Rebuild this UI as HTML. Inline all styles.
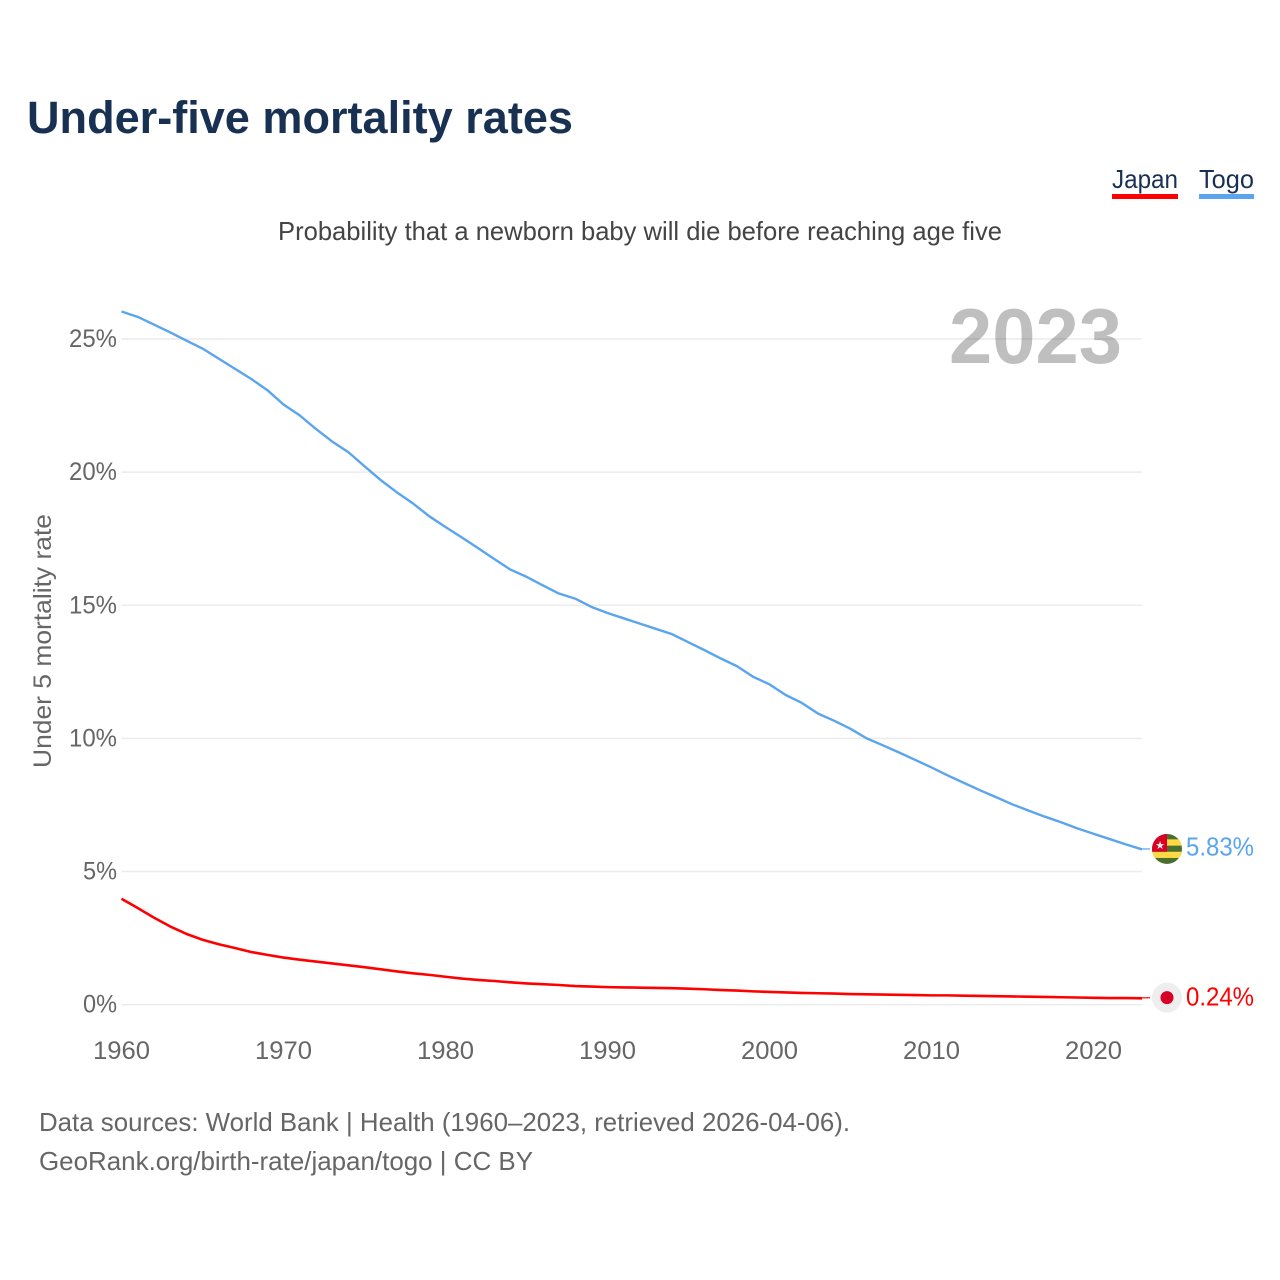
<!DOCTYPE html>
<html lang="en">
<head>
<meta charset="utf-8">
<title>Under-five mortality rates</title>
<style>
html,body{margin:0;padding:0;background:#fff;}
svg{display:block;}
text{font-family:"Liberation Sans",sans-serif;}
</style>
</head>
<body>
<svg id="chart" width="1280" height="1280" viewBox="0 0 1280 1280" xmlns="http://www.w3.org/2000/svg">
  <rect x="0" y="0" width="1280" height="1280" fill="#fff"/>
  <text x="27" y="133" font-size="45" font-weight="700" fill="#183153" textLength="546" lengthAdjust="spacingAndGlyphs">Under-five mortality rates</text>
  <g>
    <text x="1112" y="188" font-size="26" fill="#183153" textLength="66" lengthAdjust="spacingAndGlyphs">Japan</text>
    <rect x="1112" y="194" width="66" height="5" fill="#ff0000"/>
  </g>
  <g>
    <text x="1199" y="188" font-size="26" fill="#183153" textLength="55" lengthAdjust="spacingAndGlyphs">Togo</text>
    <rect x="1199" y="194" width="55" height="5" fill="#5ba4ee"/>
  </g>
  <text x="278" y="240" font-size="26" fill="#444" textLength="724" lengthAdjust="spacingAndGlyphs">Probability that a newborn baby will die before reaching age five</text>
  <g id="grid"></g>
  <g id="yTicks"></g>
  <g id="xTicks"></g>
  <text transform="translate(51,768) rotate(-90)" x="0" y="0" font-size="25" fill="#666" textLength="254" lengthAdjust="spacingAndGlyphs">Under 5 mortality rate</text>
  <g id="series"></g>
  <text x="949" y="363" font-size="78" font-weight="700" fill="#000" fill-opacity="0.25" textLength="173" lengthAdjust="spacingAndGlyphs">2023</text>
  <defs>
    <clipPath id="flagClip"><circle cx="1167" cy="0" r="15"/></clipPath>
  </defs>
  <g id="flagTogo">
    <g clip-path="url(#flagClip)">
      <rect x="1152" y="-15" width="30" height="30" fill="#496e2d"/>
      <rect x="1152" y="-9.6" width="30" height="6.3" fill="#ffda44"/>
      <rect x="1152" y="2.8" width="30" height="6.2" fill="#ffda44"/>
      <rect x="1152" y="-15" width="15" height="17.8" fill="#d80027"/>
      <text x="1160" y="0" font-size="11" fill="#f0f0f0" text-anchor="middle" style="font-family:'DejaVu Sans',sans-serif">★</text>
    </g>
  </g>
  <g id="flagJapan">
    <circle cx="1167" cy="0" r="15" fill="#eeeeee"/>
    <circle cx="1167" cy="0" r="6.5" fill="#d80027"/>
  </g>
  <text id="labelTogo" x="1186" font-size="26" fill="#5ba4ee" textLength="68" lengthAdjust="spacingAndGlyphs"></text>
  <text id="labelJapan" x="1186" font-size="26" fill="#ff0000" textLength="68" lengthAdjust="spacingAndGlyphs"></text>
  <text x="39" y="1131" font-size="26" fill="#666" textLength="811" lengthAdjust="spacingAndGlyphs">Data sources: World Bank | Health (1960–2023, retrieved 2026-04-06).</text>
  <text x="39" y="1170" font-size="26" fill="#666" textLength="494" lengthAdjust="spacingAndGlyphs">GeoRank.org/birth-rate/japan/togo | CC BY</text>
</svg>
<script>
const years = [1960,1961,1962,1963,1964,1965,1966,1967,1968,1969,1970,1971,1972,1973,1974,1975,1976,1977,1978,1979,1980,1981,1982,1983,1984,1985,1986,1987,1988,1989,1990,1991,1992,1993,1994,1995,1996,1997,1998,1999,2000,2001,2002,2003,2004,2005,2006,2007,2008,2009,2010,2011,2012,2013,2014,2015,2016,2017,2018,2019,2020,2021,2022,2023];
const togoValues = [26.03,25.83,25.54,25.25,24.94,24.64,24.26,23.88,23.5,23.08,22.54,22.13,21.62,21.15,20.75,20.22,19.7,19.24,18.82,18.34,17.94,17.55,17.15,16.74,16.34,16.07,15.75,15.44,15.25,14.94,14.71,14.51,14.31,14.11,13.91,13.61,13.31,13.0,12.71,12.31,12.03,11.63,11.33,10.93,10.66,10.36,10.0,9.74,9.47,9.19,8.91,8.61,8.33,8.05,7.79,7.52,7.29,7.06,6.85,6.62,6.42,6.22,6.02,5.83];
const japanValues = [3.98,3.63,3.27,2.94,2.66,2.44,2.27,2.13,1.98,1.87,1.77,1.69,1.62,1.55,1.48,1.41,1.33,1.25,1.18,1.12,1.05,0.98,0.93,0.89,0.84,0.8,0.77,0.74,0.7,0.68,0.66,0.65,0.64,0.63,0.62,0.6,0.58,0.55,0.53,0.5,0.48,0.46,0.44,0.43,0.42,0.4,0.39,0.38,0.37,0.36,0.35,0.35,0.34,0.33,0.32,0.31,0.3,0.29,0.28,0.27,0.26,0.25,0.25,0.24];
const yTickValues = [0,5,10,15,20,25];
const xTickValues = [1960,1970,1980,1990,2000,2010,2020];
const togoPrinted = "5.83%";
const japanPrinted = "0.24%";

const NS = "http://www.w3.org/2000/svg";
const xAxis = function (year) { return 121.5 + (year - 1960) * 16.2; };
const yAxis = function (value) { return 1004.7 - value * 26.63; };
const plotRight = xAxis(2023);

const grid = document.getElementById("grid");
const yTicks = document.getElementById("yTicks");
const xTicks = document.getElementById("xTicks");
const series = document.getElementById("series");

yTickValues.forEach(function (v) {
  const line = document.createElementNS(NS, "line");
  
  
  line.setAttribute("x1", xAxis(1960));
  line.setAttribute("x2", plotRight);
  line.setAttribute("y1", yAxis(v));
  line.setAttribute("y2", yAxis(v));
  line.setAttribute("stroke", "#ececec");
  line.setAttribute("stroke-width", "1.5");
  grid.appendChild(line);

  const t = document.createElementNS(NS, "text");
  
  
  const label = v + "%";
  const width = label.length === 3 ? 48 : 34;
  t.setAttribute("x", 117 - width);
  t.setAttribute("y", yAxis(v) + 8);
  t.setAttribute("font-size", "25");
  t.setAttribute("fill", "#666");
  t.setAttribute("textLength", width);
  t.setAttribute("lengthAdjust", "spacingAndGlyphs");
  t.textContent = label;
  yTicks.appendChild(t);
});

xTickValues.forEach(function (year) {
  const t = document.createElementNS(NS, "text");
  
  
  t.setAttribute("x", xAxis(year) - 28.5);
  t.setAttribute("y", 1059);
  t.setAttribute("font-size", "25");
  t.setAttribute("fill", "#666");
  t.setAttribute("textLength", "57");
  t.setAttribute("lengthAdjust", "spacingAndGlyphs");
  t.textContent = String(year);
  xTicks.appendChild(t);
});

function pathFor(values) {
  return values.map(function (v, i) {
    return (i === 0 ? "M" : "L") + xAxis(years[i]).toFixed(2) + " " + yAxis(v).toFixed(2);
  }).join(" ");
}

const togoLine = document.createElementNS(NS, "path");


togoLine.setAttribute("d", pathFor(togoValues));
togoLine.setAttribute("fill", "none");
togoLine.setAttribute("stroke", "#5ba4ee");
togoLine.setAttribute("stroke-width", "2.4");
togoLine.setAttribute("stroke-linejoin", "round");
series.appendChild(togoLine);

const japanLine = document.createElementNS(NS, "path");


japanLine.setAttribute("d", pathFor(japanValues));
japanLine.setAttribute("fill", "none");
japanLine.setAttribute("stroke", "#ff0000");
japanLine.setAttribute("stroke-width", "2.6");
japanLine.setAttribute("stroke-linejoin", "round");
series.appendChild(japanLine);

const togoEnd = yAxis(togoValues[togoValues.length - 1]);
const japanEnd = yAxis(japanValues[japanValues.length - 1]);

const togoConnector = document.createElementNS(NS, "line");


togoConnector.setAttribute("x1", plotRight);
togoConnector.setAttribute("x2", plotRight + 8);
togoConnector.setAttribute("y1", togoEnd - 0.5);
togoConnector.setAttribute("y2", togoEnd - 0.5);
togoConnector.setAttribute("stroke", "#5ba4ee");
togoConnector.setAttribute("stroke-width", "1.2");
series.appendChild(togoConnector);

const japanConnector = document.createElementNS(NS, "line");


japanConnector.setAttribute("x1", plotRight);
japanConnector.setAttribute("x2", plotRight + 8);
japanConnector.setAttribute("y1", japanEnd - 0.5);
japanConnector.setAttribute("y2", japanEnd - 0.5);
japanConnector.setAttribute("stroke", "#ff0000");
japanConnector.setAttribute("stroke-width", "1.2");
series.appendChild(japanConnector);

document.getElementById("flagTogo").setAttribute("transform", "translate(0," + (togoEnd - 0.5) + ")");
document.getElementById("flagJapan").setAttribute("transform", "translate(0," + (japanEnd - 0.7) + ")");

const labelTogo = document.getElementById("labelTogo");
labelTogo.setAttribute("y", togoEnd + 6);
labelTogo.textContent = togoPrinted;
const labelJapan = document.getElementById("labelJapan");
labelJapan.setAttribute("y", japanEnd + 7);
labelJapan.textContent = japanPrinted;
</script>
</body>
</html>
